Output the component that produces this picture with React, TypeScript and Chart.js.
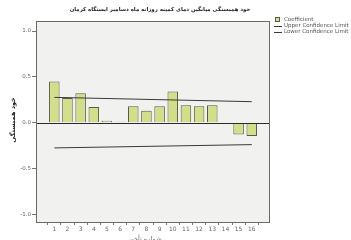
import React, { useEffect, useRef } from "react";
import { Chart, registerables } from "chart.js";

Chart.register(...registerables);

const lags = [1, 2, 3, 4, 5, 6, 7, 8, 9, 10, 11, 12, 13, 14, 15, 16];
const coefficients = [0.45, 0.27, 0.32, 0.17, 0.02, 0.01, 0.18, 0.13, 0.18, 0.34, 0.19, 0.18, 0.19, -0.01, -0.13, -0.145];
const upperLimitLags = [1, 16];
const upperLimit = [0.276, 0.229];
const lowerLimitLags = [1, 16];
const lowerLimit = [-0.276, -0.24];
const yTicks = [-1.0, -0.5, 0.0, 0.5, 1.0];

const titleText = "خود همبستگی میانگین دمای کمینه روزانه ماه دسامبر ایستگاه کرمان";
const yTitleText = "خود همبستگی";
const xTitleText = "شماره تأخیر";
const legendLabels = ["Coefficient", "Upper Confidence Limit", "Lower Confidence Limit"];

const BAR_FILL = "#d3df88";
const BAR_BORDER = "#5a5a48";
const LINE_COLOR = "#3a3a3a";

const framePlugin = {
  id: "frame",
  beforeDraw(chart: any) {
    const { ctx, chartArea } = chart;
    ctx.save();
    ctx.fillStyle = "#ffffff";
    ctx.fillRect(0, 0, chart.width, chart.height);
    ctx.fillStyle = "#f1f1f0";
    ctx.fillRect(chartArea.left, chartArea.top, chartArea.right - chartArea.left, chartArea.bottom - chartArea.top);
    ctx.restore();
  },
  afterDatasetsDraw(chart: any) {
    const { ctx, chartArea, scales } = chart;
    ctx.save();
    const y0 = Math.round(scales.y.getPixelForValue(0)) + 0.5;
    ctx.strokeStyle = "#2a2a2a";
    ctx.lineWidth = 1;
    ctx.beginPath();
    ctx.moveTo(chartArea.left, y0);
    ctx.lineTo(chartArea.right, y0);
    ctx.stroke();
    ctx.strokeStyle = "#6a6a6a";
    ctx.strokeRect(Math.round(chartArea.left) + 0.5, Math.round(chartArea.top) + 0.5,
      Math.round(chartArea.right - chartArea.left), Math.round(chartArea.bottom - chartArea.top));
    // title
    ctx.fillStyle = "#222";
    ctx.font = "bold 5.4px 'DejaVu Sans'";
    ctx.textAlign = "center";
    ctx.textBaseline = "middle";
    ctx.fillText(titleText, 160, 10);
    // y title
    ctx.save();
    ctx.translate(13, 120);
    ctx.rotate(-Math.PI / 2);
    ctx.font = "bold 6.5px 'DejaVu Sans'";
    ctx.fillText(yTitleText, 0, 0);
    ctx.restore();
    // x title
    ctx.font = "6.5px 'DejaVu Sans'";
    ctx.fillStyle = "#666";
    ctx.fillText(xTitleText, 145, 239);
    // legend
    ctx.font = "5.5px 'DejaVu Sans'";
    ctx.textAlign = "left";
    const lx = 274;
    const ly = [19.5, 25.5, 31.5];
    ctx.fillStyle = BAR_FILL;
    ctx.fillRect(lx + 1, ly[0] - 2.5, 5, 5);
    ctx.strokeStyle = BAR_BORDER;
    ctx.strokeRect(lx + 1.5, ly[0] - 2, 4, 4);
    ctx.strokeStyle = LINE_COLOR;
    for (let i = 1; i < 3; i++) {
      ctx.beginPath();
      ctx.moveTo(lx, Math.round(ly[i]) + 0.5);
      ctx.lineTo(lx + 8, Math.round(ly[i]) + 0.5);
      ctx.stroke();
    }
    ctx.fillStyle = "#555";
    legendLabels.forEach((t, i) => ctx.fillText(t, lx + 10, ly[i]));
    ctx.restore();
  },
};

export default function App() {
  const ref = useRef<HTMLCanvasElement>(null);
  useEffect(() => {
    document.body.style.margin = "0";
    const chart = new Chart(ref.current as HTMLCanvasElement, {
      type: "bar",
      data: {
        datasets: [
          {
            type: "bar",
            label: legendLabels[0],
            data: lags.map((l, i) => ({ x: l, y: coefficients[i] })),
            backgroundColor: BAR_FILL,
            borderColor: BAR_BORDER,
            borderWidth: 1,
            categoryPercentage: 1,
            barPercentage: 0.8,
            order: 2,
          } as any,
          {
            type: "line",
            label: legendLabels[1],
            data: upperLimitLags.map((l, i) => ({ x: l, y: upperLimit[i] })),
            borderColor: LINE_COLOR,
            borderWidth: 1,
            pointRadius: 0,
            fill: false,
            order: 1,
          },
          {
            type: "line",
            label: legendLabels[2],
            data: lowerLimitLags.map((l, i) => ({ x: l, y: lowerLimit[i] })),
            borderColor: LINE_COLOR,
            borderWidth: 1,
            pointRadius: 0,
            fill: false,
            order: 1,
          },
        ],
      },
      options: {
        animation: false,
        responsive: false,
        maintainAspectRatio: false,
        layout: { padding: { left: 0, right: 82, top: 21, bottom: 0 } },
        plugins: { legend: { display: false }, title: { display: false }, tooltip: { enabled: false } },
        scales: {
          x: {
            type: "linear",
            min: -0.39,
            max: 17.31,
            offset: false,
            grid: { drawOnChartArea: false, drawTicks: true, tickLength: 3, color: "#777" },
            border: { display: false },
            afterBuildTicks: (axis: any) => {
              axis.ticks = lags.map((v) => ({ value: v }));
            },
            afterFit: (axis: any) => {
              axis.height = 18;
            },
            ticks: {
              autoSkip: false,
              maxRotation: 0,
              padding: 1,
              font: { size: 6, family: "'DejaVu Sans'" },
              color: "#666",
              callback: (v: any) => String(v),
            },
          },
          y: {
            min: -1.085,
            max: 1.11,
            grid: { drawOnChartArea: false, drawTicks: true, tickLength: 4, color: "#777" },
            border: { display: false },
            afterBuildTicks: (axis: any) => {
              axis.ticks = yTicks.map((v) => ({ value: v }));
            },
            afterFit: (axis: any) => {
              axis.width = 36;
            },
            ticks: {
              padding: 1,
              font: { size: 5.5, family: "'DejaVu Sans'" },
              color: "#666",
              callback: (v: any) => Number(v).toFixed(1),
            },
          },
        },
      },
      plugins: [framePlugin],
    });
    return () => chart.destroy();
  }, []);
  return (
    <div style={{ position: "relative", width: 351, height: 240 }}>
      <canvas ref={ref} width={351} height={240} style={{ display: "block", width: 351, height: 240 }} />
    </div>
  );
}
